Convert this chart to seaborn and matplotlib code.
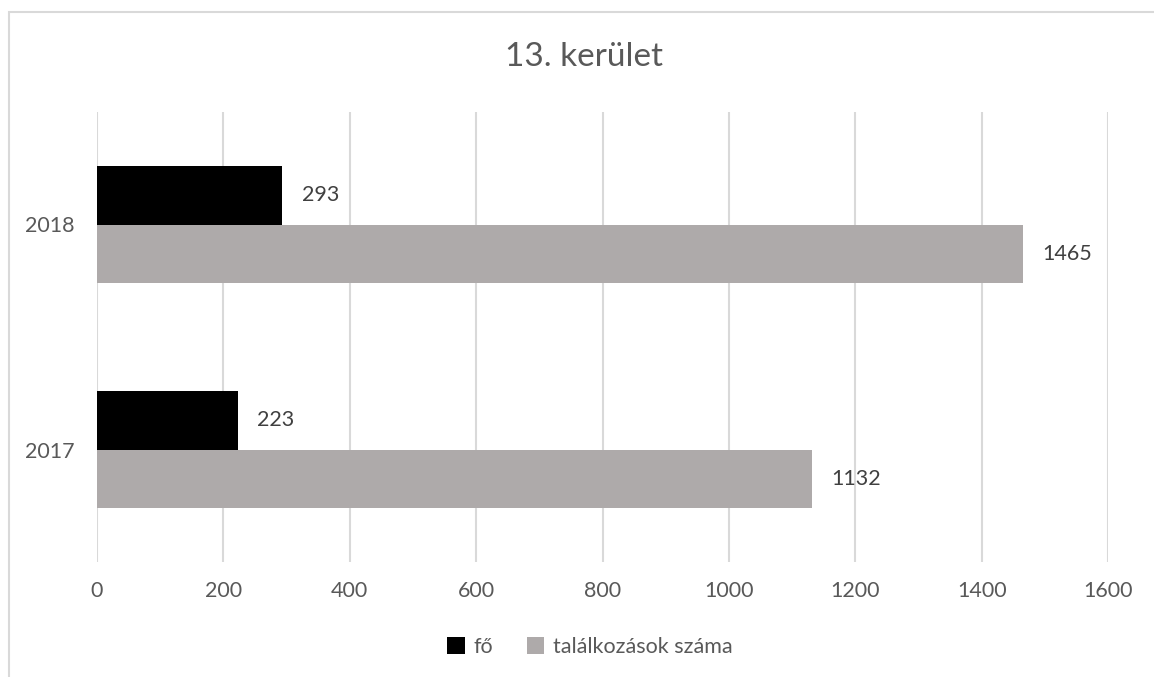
import matplotlib
matplotlib.use("Agg")
import matplotlib.pyplot as plt
import seaborn as sns
import pandas as pd
from matplotlib.patches import Rectangle, Patch

years = ["2018", "2017"]
fo = [293, 223]
talalkozasok = [1465, 1132]
series_names = ["fő", "találkozások száma"]
colors = ["#000000", "#AEAAAA"]
xticks = [0, 200, 400, 600, 800, 1000, 1200, 1400, 1600]

df = pd.DataFrame({
    "year": years * 2,
    "value": fo + talalkozasok,
    "series": [series_names[0]] * len(years) + [series_names[1]] * len(years),
})

sns.set_theme(style="white")
plt.rcParams["font.family"] = ["Lato", "DejaVu Sans"]

W, H = 1154, 677
fig = plt.figure(figsize=(W / 100, H / 100), dpi=100)
ax = fig.add_axes([97 / W, 1 - 562 / H, (1108 - 97) / W, (562 - 112) / H])

sns.barplot(data=df, y="year", x="value", hue="series", order=years,
            hue_order=series_names, palette=colors, orient="h", width=0.52,
            saturation=1, ax=ax, legend=False, linewidth=0)

ax.set_xlim(0, 1600)
ax.set_ylim(1.5, -0.5)
ax.set_xticks(xticks)
ax.set_xticklabels([str(t) for t in xticks])
ax.xaxis.grid(True, color="#D9D9D9", linewidth=1.5)
ax.set_axisbelow(True)
for s in ax.spines.values():
    s.set_visible(False)
ax.set_xlabel("")
ax.set_ylabel("")
ax.tick_params(axis="x", length=0, pad=14, labelsize=15.5, labelcolor="#595959")
ax.tick_params(axis="y", length=0, pad=16, labelsize=15.5, labelcolor="#595959")

for cont in ax.containers:
    ax.bar_label(cont, padding=14, fontsize=15.5, color="#404040")

fig.text(584 / W, 1 - 57 / H, "13. kerület", ha="center", va="center",
         fontsize=24, color="#595959")

handles = [Patch(facecolor=c, edgecolor="none") for c in colors]
fig.legend(handles, series_names, loc="center", bbox_to_anchor=(590 / W, 1 - 647 / H),
           ncol=2, frameon=False, fontsize=15.5, labelcolor="#595959",
           handlelength=0.8, handleheight=0.8, handletextpad=0.4, columnspacing=1.6)

fig.patches.append(Rectangle((9 / W, -0.1), 1.2, 1 - 12 / H + 0.1,
                             transform=fig.transFigure, fill=False,
                             edgecolor="#D9D9D9", linewidth=1.5))

fig.savefig("out.png", dpi=100)
